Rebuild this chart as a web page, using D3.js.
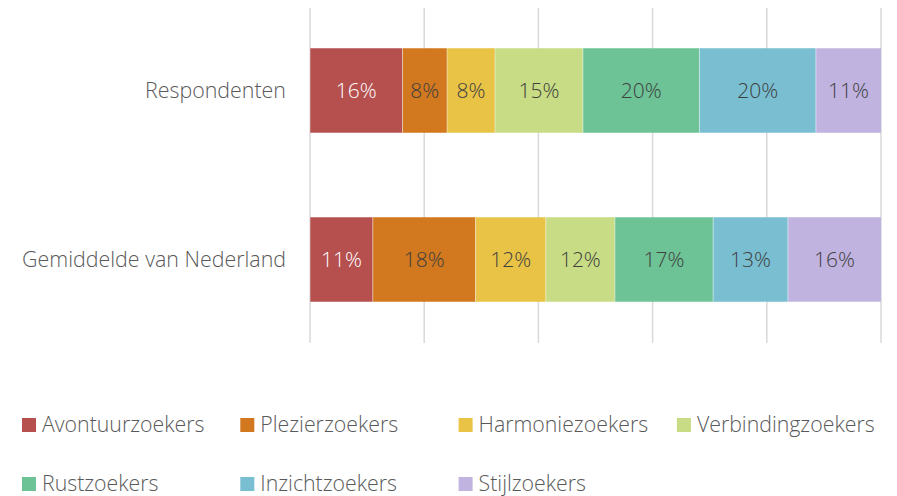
<!DOCTYPE html>
<html>
<head>
<meta charset="utf-8">
<script src="https://cdn.jsdelivr.net/npm/d3@7"></script>
<style>
  body { margin: 0; background: #fff; }
  svg { display: block; font-family: "Open Sans", "Noto Sans", sans-serif; font-weight: 300; }
</style>
</head>
<body>
<svg id="chart" width="897" height="496"></svg>
<script>
// categories (rows) and series (segments)
var categories = ["Respondenten", "Gemiddelde van Nederland"];
var seriesNames = ["Avontuurzoekers", "Plezierzoekers", "Harmoniezoekers", "Verbindingzoekers",
                   "Rustzoekers", "Inzichtzoekers", "Stijlzoekers"];
var respondenten = [16.2, 7.8, 8.4, 15.4, 20.4, 20.4, 11.4];
var gemiddelde   = [11.0, 18.0, 12.3, 12.1, 17.2, 13.1, 16.3];
var xTicks = [0, 20, 40, 60, 80, 100];

var colors = ["#b5504f", "#d2781e", "#e8c346", "#c7dc84", "#6dc396", "#79bed1", "#c0b3e0"];
var labelColors = ["#ffffff", "#404040", "#404040", "#404040", "#404040", "#404040", "#404040"];

var svg = d3.select("#chart");

var x = d3.scaleLinear().domain([0, 100]).range([310, 881]);
var y = d3.scaleBand().domain(categories).range([6, 344]).paddingInner(0.5).paddingOuter(0.25);

// gridlines
svg.append("g").selectAll("line")
    .data(xTicks)
    .join("line")
    .attr("x1", d => x(d)).attr("x2", d => x(d))
    .attr("y1", 8).attr("y2", 343)
    .attr("stroke", "#d9d9d9")
    .attr("stroke-width", 1.5);

// stack the rows
var rows = [respondenten, gemiddelde].map(function (vals, i) {
    var o = { cat: categories[i] };
    seriesNames.forEach(function (s, j) { o[s] = vals[j]; });
    return o;
});
var stacked = d3.stack().keys(seriesNames)(rows);

var layers = svg.append("g").selectAll("g")
    .data(stacked)
    .join("g")
    .attr("fill", (d, i) => colors[i]);

layers.selectAll("rect")
    .data(d => d)
    .join("rect")
    .attr("x", d => x(d[0]))
    .attr("y", d => y(d.data.cat))
    .attr("width", d => x(d[1]) - x(d[0]))
    .attr("height", y.bandwidth());

// thin white separators between segments
layers.selectAll("line")
    .data(d => d)
    .join("line")
    .attr("x1", d => x(d[0])).attr("x2", d => x(d[0]))
    .attr("y1", d => y(d.data.cat)).attr("y2", d => y(d.data.cat) + y.bandwidth())
    .attr("stroke", "#ffffff").attr("stroke-opacity", 0.6).attr("stroke-width", 0.75);

// data labels
stacked.forEach(function (layer, i) {
    svg.append("g").selectAll("text")
        .data(layer)
        .join("text")
        .attr("x", d => (x(d[0]) + x(d[1])) / 2)
        .attr("y", d => y(d.data.cat) + y.bandwidth() / 2)
        .attr("dy", "0.35em")
        .attr("text-anchor", "middle")
        .attr("font-size", 21)
        .attr("fill", labelColors[i])
        .text(d => Math.round(d[1] - d[0]) + "%");
});

// category labels
svg.append("g").selectAll("text")
    .data(categories)
    .join("text")
    .attr("x", 286)
    .attr("y", d => y(d) + y.bandwidth() / 2)
    .attr("dy", "0.35em")
    .attr("text-anchor", "end")
    .attr("font-size", 21.4)
    .attr("fill", "#595959")
    .text(d => d);

// legend
var legend = svg.append("g").selectAll("g")
    .data(seriesNames)
    .join("g")
    .attr("transform", (d, i) => "translate(" + (22 + (i % 4) * 218.3) + "," + (425 + Math.floor(i / 4) * 59) + ")");

legend.append("rect")
    .attr("x", 0).attr("y", -7)
    .attr("width", 14).attr("height", 14)
    .attr("fill", (d, i) => colors[i]);

legend.append("text")
    .attr("x", 20)
    .attr("dy", "0.35em")
    .attr("font-size", 21.3)
    .attr("fill", "#595959")
    .text(d => d);
</script>
</body>
</html>
